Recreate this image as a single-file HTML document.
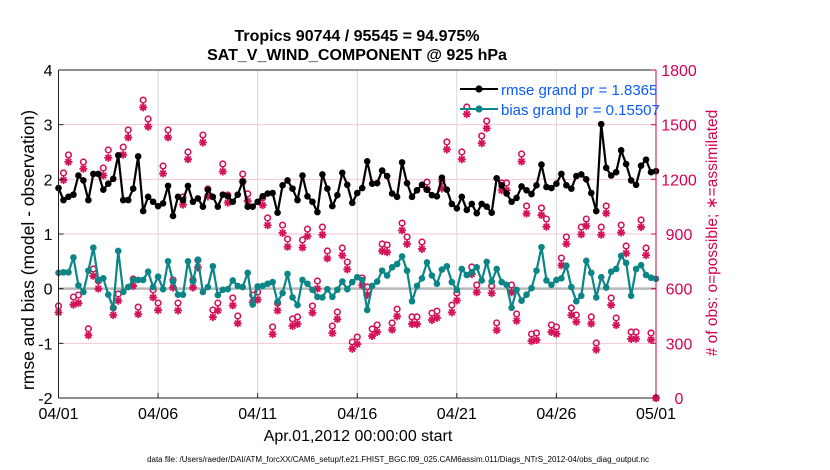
<!DOCTYPE html>
<html><head><meta charset="utf-8">
<style>
body{margin:0;background:#fff;}
svg{display:block;font-family:"Liberation Sans",sans-serif;}
</style></head>
<body>
<svg id="chart" width="830" height="470" viewBox="0 0 830 470" xmlns="http://www.w3.org/2000/svg">
<rect width="830" height="470" fill="#fff"/>
<g id="grid"></g>
<g id="series"></g>
<g id="axes"></g>
<text x="357" y="41" text-anchor="middle" font-size="16" font-weight="bold">Tropics 90744 / 95545 = 94.975%</text>
<text x="357" y="60" text-anchor="middle" font-size="16" font-weight="bold">SAT_V_WIND_COMPONENT @ 925 hPa</text>
<text transform="translate(34,250) rotate(-90)" text-anchor="middle" font-size="17.5">rmse and bias (model - observation)</text>
<text transform="translate(717,233) rotate(-90)" text-anchor="middle" font-size="15.5" fill="#d6004f"># of obs: o=possible; ∗=assimilated</text>
<text x="358" y="441" text-anchor="middle" font-size="16">Apr.01,2012 00:00:00 start</text>
<text x="398" y="462" text-anchor="middle" font-size="8">data file: /Users/raeder/DAI/ATM_forcXX/CAM6_setup/f.e21.FHIST_BGC.f09_025.CAM6assim.011/Diags_NTrS_2012-04/obs_diag_output.nc</text>
<g id="legend">
  <line x1="460" y1="89" x2="498" y2="89" stroke="#000" stroke-width="2"/>
  <circle cx="479" cy="89" r="3.6" fill="#000"/>
  <text x="501" y="95" font-size="15" fill="#0a5cff">rmse grand pr = 1.8365</text>
  <line x1="460" y1="109" x2="498" y2="109" stroke="#0b8585" stroke-width="2"/>
  <circle cx="479" cy="109" r="3.6" fill="#0b8585"/>
  <text x="501" y="115" font-size="15" fill="#0a5cff">bias grand pr = 0.15507</text>
</g>
</svg>
<script>
const rmse=[1.84,1.62,1.68,1.72,2.07,1.98,1.62,2.10,2.10,1.81,1.92,2.01,2.44,1.62,1.62,1.83,2.42,1.42,1.68,1.59,1.51,1.56,1.88,1.33,1.68,1.62,1.88,1.59,1.65,1.50,1.81,1.68,1.50,1.72,1.69,1.59,1.72,1.96,1.50,1.50,1.59,1.69,
1.74,1.75,1.39,1.89,1.98,1.83,1.62,2.07,1.69,1.59,1.40,2.09,1.83,1.51,1.71,2.12,1.90,1.57,1.75,1.84,2.33,1.92,1.93,2.16,2.06,1.74,1.68,2.31,1.93,1.68,1.80,1.90,1.81,1.71,1.69,2.03,1.81,1.55,1.47,1.68,
1.44,1.55,1.38,1.55,1.50,1.39,2.02,1.89,1.74,1.59,1.66,1.87,1.80,1.73,1.89,2.27,1.86,1.84,1.92,2.10,1.89,1.83,2.06,2.09,2.00,1.75,1.42,3.01,2.21,2.07,2.13,2.53,2.28,1.98,1.90,2.25,2.36,2.13,2.15];
const bias=[0.29,0.30,0.30,0.57,0.06,-0.06,0.33,0.75,0.16,0.19,-0.11,-0.35,0.69,-0.06,0.03,0.16,0.16,0.16,0.31,0.03,0.22,-0.01,0.50,0.13,-0.11,-0.11,0.50,0.13,0.53,-0.06,0.03,0.41,-0.12,-0.02,-0.01,0.15,0.05,0.03,0.29,-0.29,0.04,0.05,
0.09,0.12,-0.24,-0.08,0.27,-0.16,-0.30,0.16,0.09,-0.02,-0.15,-0.16,-0.01,-0.15,-0.02,0.13,-0.01,0.12,0.21,0.16,-0.39,0.05,0.13,0.33,0.24,0.39,0.45,0.59,0.33,-0.23,0.05,0.19,0.48,0.24,0.09,0.35,0.41,0.12,-0.02,0.36,
0.25,0.30,0.39,0.15,0.49,0.13,0.36,0.12,0.07,-0.35,-0.02,-0.22,-0.11,0.01,0.33,0.76,0.15,0.07,0.16,0.19,0.42,0.03,-0.23,-0.13,0.51,0.29,-0.16,0.21,0.02,0.31,0.36,0.60,0.47,-0.13,0.36,0.43,0.25,0.20,0.18];
const obsPossible=[505,1235,1334,554,565,1295,380,708,642,1262,1361,494,571,1377,1471,653,499,1635,1531,593,521,1273,1471,648,521,1103,1350,648,757,1443,1147,483,521,1284,1114,549,450,1229,1120,565,582,1098,
988,390,521,949,872,434,445,867,927,505,642,938,807,395,472,823,746,307,335,659,609,379,401,845,840,412,488,960,884,445,445,856,1185,466,477,1191,1405,510,576,1350,
1597,719,620,1438,1520,615,412,1180,1180,620,461,1339,1054,351,357,1043,982,401,390,768,884,494,455,938,982,445,302,938,1054,549,439,949,834,362,362,977,823,357,0];
const obsAssim=[470,1196,1296,512,521,1258,344,670,600,1221,1318,455,534,1335,1430,615,460,1595,1489,552,482,1232,1430,606,480,1061,1310,606,716,1402,1106,444,480,1243,1072,508,410,1188,1080,525,540,1058,
948,350,480,906,830,395,406,826,888,468,600,896,766,356,433,782,706,270,296,618,566,340,362,806,800,375,448,920,845,406,405,818,1146,428,440,1150,1364,470,535,1310,
1558,680,580,1398,1480,575,372,1140,1140,580,424,1298,1012,312,318,1004,940,362,352,728,846,455,418,898,944,408,265,896,1014,510,400,908,794,324,325,938,784,320,0];
const xTicks=["04/01","04/06","04/11","04/16","04/21","04/26","05/01"];
const yTicks=[-2,-1,0,1,2,3,4];
const y2Ticks=[0,300,600,900,1200,1500,1800];

const NS="http://www.w3.org/2000/svg";
const X0=58.5,X1=656,Y0=70,Y1=398;
const xs=d=>X0+(d/30)*(X1-X0);
const ys=v=>Y1-(v+2)/6*(Y1-Y0);
const ys2=v=>Y1-v/1800*(Y1-Y0);
const tOf=i=>i*0.25;
function el(tag,attrs,parent){const e=document.createElementNS(NS,tag);for(const k in attrs)e.setAttribute(k,attrs[k]);parent.appendChild(e);return e;}
const grid=document.getElementById('grid'),ser=document.getElementById('series'),ax=document.getElementById('axes');
const PINK="#d4145a",TEAL="#0b8585";

xTicks.forEach((t,k)=>{const x=xs(k*5);
  if(k>0&&k<6){const g=el('line',{x1:x,x2:x,y1:Y0,y2:Y1,stroke:'#d6d6d6','stroke-width':1},grid);
  
  }});
yTicks.forEach(v=>{if(v>-2&&v<4){const y=ys(v);const g=el('line',{x1:X0,x2:X1,y1:y,y2:y,stroke:'#f5c6d6','stroke-width':1},grid);
  
  }});
const zl=el('line',{x1:X0,x2:X1,y1:ys(0),y2:ys(0),stroke:'#b8b8b8','stroke-width':2.5},grid);



function star(cx,cy,parent){const r=4;let d='';
  for(let a=0;a<4;a++){const an=a*Math.PI/4;d+=`M${cx-r*Math.cos(an)},${cy-r*Math.sin(an)}L${cx+r*Math.cos(an)},${cy+r*Math.sin(an)}`;}
  return el('path',{d:d,stroke:PINK,'stroke-width':1.8,fill:'none'},parent);}
obsPossible.forEach((v,i)=>{const c=el('circle',{cx:xs(tOf(i)),cy:ys2(v),r:2.8,fill:'none',stroke:PINK,'stroke-width':1.6},ser);
  
  });
obsAssim.forEach((v,i)=>{const s=star(xs(tOf(i)),ys2(v),ser);
  
  });

function line(arr,color,name){
  const pts=arr.map((v,i)=>xs(tOf(i))+','+ys(v)).join(' ');
  const p=el('polyline',{points:pts,fill:'none',stroke:color,'stroke-width':2.2,'stroke-linejoin':'round'},ser);
  
  
  arr.forEach((v,i)=>{const c=el('circle',{cx:xs(tOf(i)),cy:ys(v),r:3.3,fill:color},ser);
    
    });
}
line(bias,TEAL,'bias');
line(rmse,'#000','rmse');

const lA=el('line',{x1:X0,x2:X0,y1:Y0,y2:Y1,stroke:'#222','stroke-width':1},ax);


const bA=el('line',{x1:X0,x2:X1,y1:Y1,y2:Y1,stroke:'#222','stroke-width':1},ax);


const tA=el('line',{x1:X0,x2:X1,y1:Y0,y2:Y0,stroke:'#222','stroke-width':1},ax);


const rA=el('line',{x1:X1,x2:X1,y1:Y0,y2:Y1,stroke:'#d6004f','stroke-width':1},ax);


xTicks.forEach((t,k)=>{const x=xs(k*5);
  el('line',{x1:x,x2:x,y1:Y1,y2:Y1-5,stroke:'#222'},ax);
  const tx=el('text',{x:x,y:Y1+21,'text-anchor':'middle','font-size':16},ax);tx.textContent=t;
  
  });
yTicks.forEach(v=>{const y=ys(v);
  el('line',{x1:X0,x2:X0+5,y1:y,y2:y,stroke:'#222'},ax);
  const tx=el('text',{x:X0-6,y:y+6,'text-anchor':'end','font-size':16},ax);tx.textContent=v;
  
  });
y2Ticks.forEach(v=>{const y=ys2(v);
  el('line',{x1:X1,x2:X1-5,y1:y,y2:y,stroke:'#d6004f'},ax);
  const tx=el('text',{x:679,y:y+6,'text-anchor':'middle','font-size':16,fill:'#d6004f'},ax);tx.textContent=v;
  
  });
</script>
</body></html>
